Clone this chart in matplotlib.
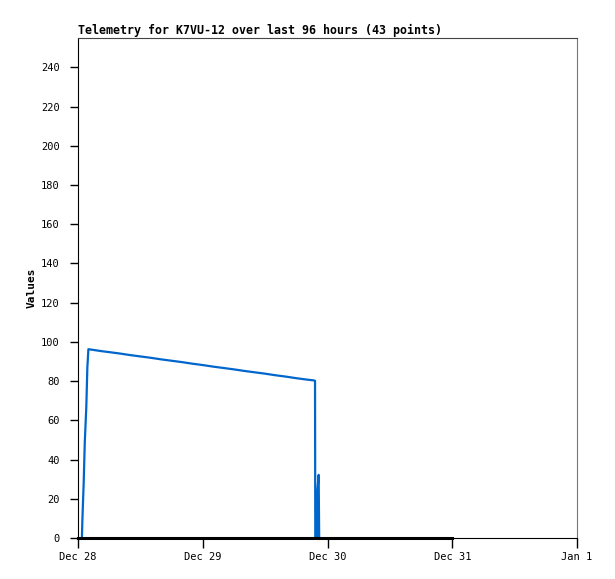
import matplotlib
matplotlib.use('Agg')
import matplotlib.pyplot as plt
import matplotlib.dates as mdates
from matplotlib.ticker import FuncFormatter
import datetime as dt

start = dt.datetime(2023, 12, 28)

# telemetry value, hours after Dec 28 00:00
hours = [0.75, 0.85, 1.1, 1.3, 1.6, 1.8, 2.0,
         3, 4.5, 6, 8, 10, 12, 14, 16, 18, 20, 22, 24, 26, 28, 30,
         32, 34, 36, 38, 40, 42, 44, 45.3, 45.6,
         45.65, 46.0, 46.05, 46.3, 46.4]
values = [0, 9.7, 28.6, 48.5, 67, 87, 96.3,
          95.9, 95.3, 94.8, 94.1, 93.3, 92.6, 91.9, 91.1, 90.4, 89.7, 88.9,
          88.2, 87.4, 86.7, 86.0, 85.2, 84.5, 83.8, 83.0, 82.3, 81.5, 80.8,
          80.4, 80.2,
          0, 0, 24, 32.2, 0]

# second channel, flat at zero
zero_hours = [0, 24, 48, 72]
zero_values = [0, 0, 0, 0]

times = [start + dt.timedelta(hours=h) for h in hours]
zero_times = [start + dt.timedelta(hours=h) for h in zero_hours]

fig = plt.figure(figsize=(6.15, 5.79), dpi=100)
ax = fig.add_axes([78 / 615, 41 / 579, 499 / 615, 500 / 579])

ax.plot(times, values, color='#0066cc', linewidth=1.6)
ax.plot(zero_times, zero_values, color='black', linewidth=2.2, clip_on=False,
        zorder=3)

ax.set_xlim(start, start + dt.timedelta(days=4))
ax.set_ylim(0, 255)
ax.set_yticks(range(0, 241, 20))
ax.xaxis.set_major_locator(mdates.DayLocator())
ax.xaxis.set_major_formatter(
    FuncFormatter(lambda v, p: '%s %d' % (mdates.num2date(v).strftime('%b'),
                                          mdates.num2date(v).day)))

ax.tick_params(axis='both', direction='out', labelsize=7.5, width=1,
               colors='black')
ax.tick_params(axis='x', length=7, pad=3)
ax.tick_params(axis='y', length=6, pad=7)
for lab in ax.get_xticklabels() + ax.get_yticklabels():
    lab.set_family('DejaVu Sans Mono')

ax.spines['left'].set_color('black')
ax.spines['bottom'].set_color('black')
ax.spines['top'].set_color('#444444')
ax.spines['right'].set_color('#777777')

ax.set_ylabel('Values', family='DejaVu Sans Mono', fontweight='bold',
              fontsize=8, labelpad=3)
ax.set_title('Telemetry for K7VU-12 over last 96 hours (43 points)',
             loc='left', family='DejaVu Sans Mono', fontweight='bold',
             fontsize=8.4, pad=3)

fig.savefig('out.png', dpi=100)
